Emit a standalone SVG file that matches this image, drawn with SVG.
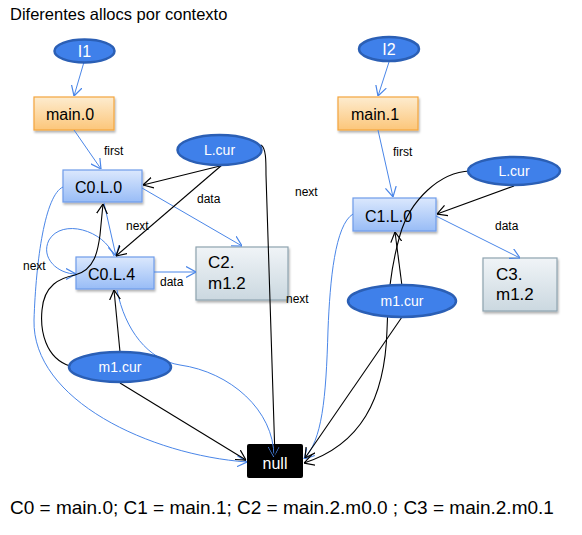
<svg xmlns="http://www.w3.org/2000/svg" width="582" height="535" viewBox="0 0 582 535">
<style>
text{font-family:"Liberation Sans",Arial,sans-serif;}
.title{font-size:16.5px;fill:#000;}
.foot{font-size:19px;fill:#000;}
.nt{font-size:16px;fill:#000;}
.nt2{font-size:17px;fill:#000;}
.et{font-size:14px;fill:#fff;}
.lbl{font-size:12px;fill:#000;}
.ell{fill:#3f80ea;stroke:#2b5fb5;stroke-width:2.5;}
.org{fill:url(#gOrg);stroke:#f3a53e;stroke-width:1.2;filter:url(#sh);}
.blu{fill:url(#gBlu);stroke:#6e9cea;stroke-width:1.2;filter:url(#sh);}
.gry{fill:url(#gGry);stroke:#8ea3b0;stroke-width:1.2;filter:url(#sh);}
.cb{fill:none;stroke:#4a86e8;stroke-width:1;marker-end:url(#ab);}
.ck{fill:none;stroke:#000;stroke-width:1.1;marker-end:url(#ak);}
</style>
<defs>
<linearGradient id="gOrg" x1="0" y1="0" x2="0" y2="1"><stop offset="0" stop-color="#fdeccf"/><stop offset="1" stop-color="#fcc67a"/></linearGradient>
<linearGradient id="gBlu" x1="0" y1="0" x2="0" y2="1"><stop offset="0" stop-color="#dbe8fd"/><stop offset="1" stop-color="#98bcf6"/></linearGradient>
<linearGradient id="gGry" x1="0" y1="0" x2="0" y2="1"><stop offset="0" stop-color="#f0f4f7"/><stop offset="1" stop-color="#cbd8e0"/></linearGradient>
<filter id="sh" x="-10%" y="-10%" width="130%" height="140%"><feDropShadow dx="1" dy="2" stdDeviation="1.2" flood-color="#000" flood-opacity="0.3"/></filter>
<marker id="ab" viewBox="0 0 10 12" refX="10" refY="6" markerWidth="10" markerHeight="12" markerUnits="userSpaceOnUse" orient="auto"><path d="M0,0.5 L10,6 L0,11.5" fill="none" stroke="#4a86e8" stroke-width="1.2"/></marker>
<marker id="ak" viewBox="0 0 10 12" refX="10" refY="6" markerWidth="10" markerHeight="12" markerUnits="userSpaceOnUse" orient="auto"><path d="M0,0.5 L10,6 L0,11.5" fill="none" stroke="#000" stroke-width="1.2"/></marker>
</defs>

<text class="title" x="10" y="20">Diferentes allocs por contexto</text>

<g id="main0"><rect class="org" x="34" y="97" width="80" height="33"/><text class="nt" x="46" y="120">main.0</text></g>
<g id="main1"><rect class="org" x="338" y="97" width="80" height="33"/><text class="nt" x="351" y="120">main.1</text></g>
<g id="C0L0"><rect class="blu" x="63" y="170" width="79" height="32"/><text class="nt" x="75" y="193">C0.L.0</text></g>
<g id="C0L4"><rect class="blu" x="76" y="257" width="78" height="32"/><text class="nt" x="88" y="280">C0.L.4</text></g>
<g id="C1L0"><rect class="blu" x="353" y="198" width="83" height="33"/><text class="nt" x="365" y="222">C1.L.0</text></g>
<g id="C2m12"><rect class="gry" x="196" y="247" width="92" height="53"/><text class="nt2" x="208" y="268">C2.</text><text class="nt2" x="208" y="289">m1.2</text></g>
<g id="C3m12"><rect class="gry" x="483" y="258" width="74" height="53"/><text class="nt2" x="496" y="280">C3.</text><text class="nt2" x="496" y="300">m1.2</text></g>
<g id="null"><rect x="247" y="444" width="56" height="34" rx="2" fill="#000"/><text x="275" y="469" text-anchor="middle" style="font-size:16px;fill:#fff">null</text></g>

<g id="connectors">
<path class="cb" d="M84,62 L74,96"/>
<path class="cb" d="M74,130 L101,169"/>
<path class="cb" d="M142,188 L242,246"/>
<path class="cb" d="M104,203 L116,256"/>
<path class="cb" d="M114,256 C104,230 62,218 49,240 C40,258 58,274 76,274"/>
<path class="cb" d="M154,272 L196,272"/>
<path class="cb" d="M63,187 C45,195 36,260 34,320 C32,400 150,455 247,462"/>
<path class="cb" d="M117,290 C125,330 148,360 180,365 C230,372 274,410 274,457"/>
<path class="cb" d="M353,214 C335,225 330,280 328,330 C326,400 322,440 304,459"/>
<path class="cb" d="M389,62 L378,96"/>
<path class="cb" d="M378,130 L393,197"/>
<path class="cb" d="M436,216 L520,258"/>
<path class="ck" d="M220,166 L143,185"/>
<path class="ck" d="M222,165 L116,256"/>
<path class="ck" d="M261,145 C266,148 266,160 266,175 L275,457"/>
<path class="ck" d="M70,366 C45,358 40,330 42,310 C44,285 60,278 75,275 C95,270 98,250 100,235 L103,204"/>
<path class="ck" d="M120,352 L114,290"/>
<path class="ck" d="M120,383 L246,460"/>
<path class="ck" d="M514,186 L437,214"/>
<path class="ck" d="M470,171 C440,172 410,200 400,235 C390,270 388,300 387,330 C385,400 360,445 304,463"/>
<path class="ck" d="M402,286 L395,232"/>
<path class="ck" d="M402,317 L305,458"/>
</g>

<g id="I1"><ellipse class="ell" cx="84.5" cy="51" rx="30" ry="11.5"/><text x="84.5" y="57" text-anchor="middle" style="font-size:16px;fill:#fff">I1</text></g>
<g id="I2"><ellipse class="ell" cx="389" cy="49" rx="30" ry="12"/><text x="389" y="55" text-anchor="middle" style="font-size:16px;fill:#fff">I2</text></g>
<g id="Lcur1"><ellipse class="ell" cx="219.5" cy="150" rx="42" ry="15"/><text class="et" x="219.5" y="155" text-anchor="middle">L.cur</text></g>
<g id="Lcur2"><ellipse class="ell" cx="514" cy="171" rx="46" ry="14"/><text class="et" x="514" y="176" text-anchor="middle">L.cur</text></g>
<g id="m1cur1"><ellipse class="ell" cx="120" cy="367" rx="51" ry="15"/><text class="et" x="120" y="372" text-anchor="middle">m1.cur</text></g>
<g id="m1cur2"><ellipse class="ell" cx="402" cy="301" rx="54" ry="16"/><text class="et" x="402" y="306" text-anchor="middle">m1.cur</text></g>

<g id="labels">
<text class="lbl" x="104" y="155">first</text>
<text class="lbl" x="197" y="203">data</text>
<text class="lbl" x="126" y="230">next</text>
<text class="lbl" x="23" y="270">next</text>
<text class="lbl" x="160" y="286">data</text>
<text class="lbl" x="295" y="196">next</text>
<text class="lbl" x="286" y="303">next</text>
<text class="lbl" x="393" y="156">first</text>
<text class="lbl" x="495" y="230">data</text>
</g>

<text class="foot" x="10" y="514">C0 = main.0; C1 = main.1; C2 = main.2.m0.0 ; C3 = main.2.m0.1</text>
</svg>
